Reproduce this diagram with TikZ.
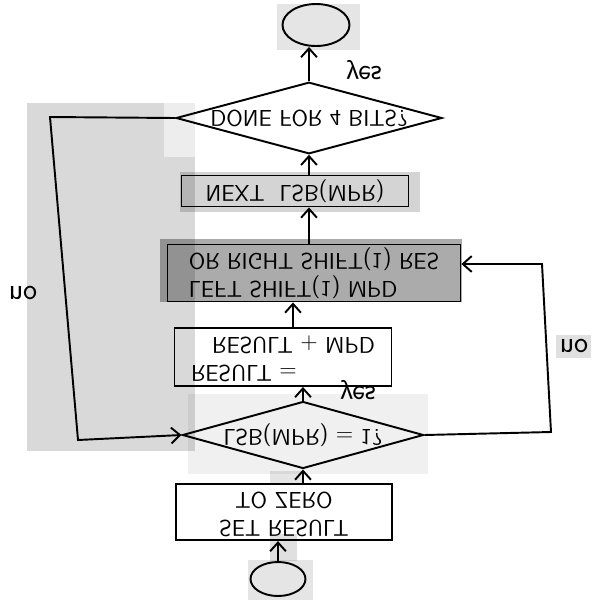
\documentclass[tikz,border=0pt]{standalone}
\usepackage{graphicx}
\usepackage{tikz}
\usetikzlibrary{shapes.geometric,arrows.meta}

\newcommand{\upside}[1]{\scalebox{1}[-1]{#1}}
\tikzset{
  box/.style={draw, line width=1.1pt, rectangle, inner sep=0pt, font=\sffamily\fontsize{13}{16}\selectfont},
  decision/.style={draw, line width=1.1pt, diamond, aspect=3.6, inner sep=0pt, font=\sffamily\fontsize{13}{16}\selectfont},
  term/.style={draw, line width=1.1pt, ellipse, inner sep=0pt},
  arr/.style={line width=1.1pt, -{Straight Barb[length=5pt,width=9pt]}},
  tag/.style={font=\sffamily\fontsize{17}{19}\selectfont},
  scan/.style={fill=black, fill opacity=#1, draw=none}
}

\begin{document}
\begin{tikzpicture}[x=0.02cm, y=-0.02cm]
  \useasboundingbox (0,0) rectangle (600,600);
  % scanner patches
  \fill[scan=0.15] (27,103) rectangle (195,451);
  \fill[black!7] (164,103) rectangle (195,157);
  \fill[scan=0.10] (277,4) rectangle (360,50);
  \fill[scan=0.17] (180,172) rectangle (420,212);
  \fill[scan=0.33] (160,239) rectangle (462,302);
  \fill[scan=0.06] (188,394) rectangle (428,474);
  \fill[scan=0.10] (270,471) rectangle (302,484);
  \fill[scan=0.12] (556,335) rectangle (591,358);
  \fill[scan=0.12] (270,534) rectangle (297,561);
  \fill[scan=0.10] (248,560) rectangle (313,600);

  % nodes
  \node[term, minimum width=1.34cm, minimum height=0.84cm] (finish) at (316,25) {};
  \node[decision, minimum width=5.32cm, minimum height=1.42cm] (done) at (309,118) {\upside{DONE FOR 4 BITS?}};
  \node[box, minimum width=4.54cm, minimum height=0.62cm] (next) at (295,191) {\upside{NEXT\ \ LSB(MPR)}};
  \node[box, minimum width=5.86cm, minimum height=1.14cm] (shift) at (314,273) {\upside{\begin{tabular}{@{}l@{}}LEFT SHIFT(1) MPD\\OR RIGHT SHIFT(1) RES\end{tabular}}};
  \node[box, minimum width=4.34cm, minimum height=1.16cm] (result) at (283,357) {\upside{\begin{tabular}{@{}l@{}}RESULT =\\\hspace{12pt}RESULT + MPD\end{tabular}}};
  \node[decision, minimum width=4.56cm, minimum height=1.34cm] (lsb) at (303,435) {\upside{LSB(MPR) = 1?}};
  \node[box, minimum width=4.32cm, minimum height=1.04cm] (setres) at (284,512) {\upside{\begin{tabular}{@{}c@{}}SET RESULT\\TO ZERO\end{tabular}}};
  \node[term, minimum width=1.1cm, minimum height=0.68cm] (start) at (278,579) {};

  % labels
  \node[tag] (yesdone) at (364,70) {\upside{yes}};
  \node[tag] (yeslsb) at (358,390) {\upside{yes}};
  \node[tag] (noleft) at (23,293) {\upside{no}};
  \node[tag] (noright) at (574,346) {\upside{no}};

  % connectors
  \draw[arr] (start.north) -- (start.north |- setres.south);
  \draw[arr] (lsb.south |- setres.north) -- (lsb.south);
  \draw[arr] (lsb.north) -- (lsb.north |- result.south);
  \draw[arr] ([xshift=0.2cm]result.north) -- ([xshift=0.2cm]result.north |- shift.south);
  \draw[arr] (shift.north -| done.south) -- (done.south |- next.south);
  \draw[arr] (done.south |- next.north) -- (done.south);
  \draw[arr] (done.north) -- (done.north |- finish.south);
  \draw[arr] (done.west) -- (50,117) -- (78,440) -- (lsb.west);
  \draw[arr] (lsb.east) -- (551,432) -- (542,264) -- ([yshift=0.18cm]shift.east);
\end{tikzpicture}
\end{document}
